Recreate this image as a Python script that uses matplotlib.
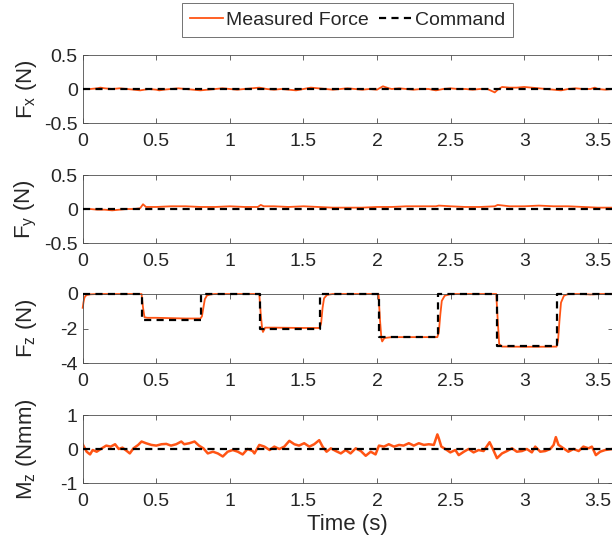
import matplotlib
matplotlib.use("Agg")
import matplotlib.pyplot as plt
from matplotlib.lines import Line2D

plt.rcParams['font.family'] = ['Liberation Sans', 'DejaVu Sans']
plt.rcParams['mathtext.fontset'] = 'custom'
plt.rcParams['mathtext.rm'] = 'Liberation Sans'
plt.rcParams['mathtext.it'] = 'Liberation Sans:italic'
plt.rcParams['mathtext.bf'] = 'Liberation Sans:bold'

# ---------------- data ----------------
fx_t = [0, 0.05, 0.1, 0.12, 0.15, 0.2, 0.25, 0.3, 0.35, 0.39, 0.45, 0.5, 0.52, 0.55, 0.6,
        0.65, 0.7, 0.75, 0.8, 0.85, 0.9, 0.95, 1.0, 1.05, 1.1, 1.15, 1.2, 1.25, 1.3, 1.35,
        1.4, 1.45, 1.5, 1.55, 1.6, 1.65, 1.7, 1.75, 1.8, 1.85, 1.9, 1.95, 2.0, 2.04, 2.08,
        2.1, 2.15, 2.2, 2.25, 2.3, 2.35, 2.4, 2.45, 2.5, 2.55, 2.6, 2.65, 2.7, 2.75, 2.8,
        2.82, 2.85, 2.9, 2.95, 3.0, 3.05, 3.1, 3.15, 3.2, 3.25, 3.3, 3.35, 3.4, 3.45, 3.48,
        3.5, 3.55, 3.6]
fx_v = [0.0, 0.0, 0.01, 0.02, 0.01, 0.0, 0.01, 0.0, -0.01, -0.02, 0.0, -0.01, -0.02, -0.01, 0.0,
        0.01, 0.0, -0.01, -0.02, -0.01, 0.0, 0.01, 0.0, -0.01, 0.0, 0.01, 0.02, 0.0, -0.01, 0.0,
        -0.01, -0.02, 0.0, 0.02, 0.01, 0.0, -0.01, 0.0, 0.01, 0.0, -0.01, 0.0, -0.01, 0.04, 0.01,
        0.0, 0.01, 0.0, -0.01, 0.0, 0.0, -0.02, 0.0, 0.01, 0.0, 0.0, -0.01, 0.0, 0.0, -0.05,
        -0.01, 0.03, 0.02, 0.02, 0.03, 0.02, 0.01, 0.0, -0.01, -0.02, 0.0, 0.01, 0.0, 0.0, 0.02,
        0.0, -0.01, 0.0]

fy_t = [0, 0.05, 0.1, 0.15, 0.2, 0.25, 0.3, 0.35, 0.39, 0.41, 0.43, 0.5, 0.6, 0.7, 0.8,
        0.9, 1.0, 1.1, 1.19, 1.21, 1.23, 1.3, 1.4, 1.5, 1.6, 1.7, 1.8, 1.9, 2.0, 2.1,
        2.2, 2.3, 2.4, 2.42, 2.5, 2.6, 2.7, 2.8, 2.82, 2.9, 3.0, 3.1, 3.2, 3.3, 3.4,
        3.5, 3.6]
fy_v = [0.0, 0.0, -0.01, -0.01, -0.02, -0.01, 0.0, 0.0, 0.01, 0.07, 0.03, 0.03, 0.04, 0.04, 0.03,
        0.03, 0.04, 0.03, 0.03, 0.06, 0.04, 0.04, 0.03, 0.04, 0.03, 0.02, 0.02, 0.02, 0.03, 0.03,
        0.04, 0.04, 0.04, 0.05, 0.04, 0.03, 0.03, 0.04, 0.06, 0.04, 0.04, 0.05, 0.04, 0.04, 0.03,
        0.02, 0.02]

fz_t = [0, 0.005, 0.012, 0.025, 0.05, 0.1, 0.2, 0.3, 0.4, 0.41, 0.42, 0.44, 0.5, 0.6, 0.7,
        0.8, 0.81, 0.82, 0.83, 0.845, 0.87, 0.9, 1.0, 1.1, 1.2, 1.21, 1.22, 1.225, 1.24, 1.3,
        1.4, 1.5, 1.61, 1.62, 1.63, 1.64, 1.66, 1.7, 1.8, 1.9, 2.01, 2.02, 2.03, 2.035, 2.05,
        2.1, 2.2, 2.3, 2.41, 2.42, 2.43, 2.44, 2.46, 2.5, 2.6, 2.7, 2.81, 2.82, 2.83, 2.85,
        2.9, 3.0, 3.1, 3.22, 3.23, 3.24, 3.25, 3.27, 3.3, 3.4, 3.45, 3.5, 3.6]
fz_v = [-0.8, -0.5, -0.2, -0.06, -0.02, 0.0, 0.0, 0.0, 0.0, -0.8, -1.35, -1.38, -1.38, -1.4, -1.42,
        -1.42, -1.3, -0.8, -0.3, -0.08, -0.02, 0.0, 0.0, 0.0, 0.0, -1.2, -2.05, -2.2, -1.95, -1.95,
        -1.96, -1.97, -1.97, -1.7, -0.8, -0.25, -0.05, 0.0, 0.0, 0.0, 0.0, -1.5, -2.6, -2.75, -2.55,
        -2.5, -2.5, -2.5, -2.5, -2.2, -1.2, -0.4, -0.1, 0.0, 0.0, 0.0, 0.0, -1.5, -2.9, -3.05,
        -3.05, -3.06, -3.06, -3.05, -2.7, -1.5, -0.5, -0.1, 0.0, 0.0, -0.03, 0.0, 0.0]

fz_cmd_t = [0, 0.40, 0.40, 0.805, 0.805, 1.205, 1.205, 1.61, 1.61, 2.015, 2.015, 2.415, 2.415,
            2.815, 2.815, 3.22, 3.22, 3.6]
fz_cmd_v = [0, 0, -1.5, -1.5, 0, 0, -2, -2, 0, 0, -2.5, -2.5, 0, 0, -3, -3, 0, 0]

mz_t = [0, 0.027, 0.05, 0.068, 0.095, 0.13, 0.16, 0.19, 0.22, 0.245, 0.27, 0.3, 0.32, 0.345,
        0.377, 0.4, 0.43, 0.467, 0.5, 0.535, 0.568, 0.6, 0.635, 0.67, 0.69, 0.725, 0.76, 0.79,
        0.82, 0.85, 0.885, 0.918, 0.952, 0.985, 1.02, 1.054, 1.087, 1.12, 1.155, 1.167, 1.2,
        1.235, 1.27, 1.302, 1.336, 1.37, 1.404, 1.438, 1.47, 1.505, 1.54, 1.573, 1.607, 1.63,
        1.657, 1.686, 1.72, 1.754, 1.787, 1.82, 1.855, 1.89, 1.923, 1.957, 1.99, 2.013, 2.047,
        2.08, 2.115, 2.15, 2.18, 2.216, 2.25, 2.284, 2.318, 2.352, 2.386, 2.41, 2.42, 2.437,
        2.464, 2.498, 2.532, 2.555, 2.59, 2.622, 2.656, 2.69, 2.724, 2.765, 2.785, 2.815, 2.849,
        2.883, 2.917, 2.95, 2.985, 3.018, 3.052, 3.075, 3.109, 3.143, 3.177, 3.2, 3.215, 3.233,
        3.267, 3.3, 3.335, 3.37, 3.402, 3.437, 3.46, 3.487, 3.516, 3.55, 3.6]
mz_v = [0.14, -0.08, -0.16, -0.03, -0.08, 0.02, 0.1, 0.07, 0.14, 0.0, 0.04, -0.06, -0.13, 0.02,
        0.12, 0.22, 0.17, 0.12, 0.1, 0.14, 0.15, 0.1, 0.14, 0.22, 0.14, 0.17, 0.22, 0.1,
        0.02, -0.13, -0.08, -0.13, -0.22, -0.08, -0.03, -0.08, -0.16, 0.0, -0.06, -0.13, 0.12,
        0.07, -0.03, 0.07, 0.0, 0.07, 0.24, 0.14, 0.1, 0.17, 0.07, 0.14, 0.26, 0.07,
        -0.08, 0.02, -0.06, -0.13, -0.03, -0.13, 0.02, -0.06, -0.2, -0.08, -0.16, 0.1, 0.07,
        0.14, 0.07, 0.12, 0.1, 0.17, 0.1, 0.17, 0.12, 0.14, 0.12, 0.43, 0.31, 0.07,
        0.0, -0.1, -0.03, -0.18, -0.08, 0.0, -0.1, -0.03, -0.06, 0.2, 0.02, -0.27, -0.13,
        -0.06, 0.02, -0.08, -0.06, 0.0, -0.1, 0.07, -0.08, -0.06, 0.0, 0.12, 0.35, 0.12,
        0.02, -0.08, 0.0, -0.06, 0.07, 0.02, 0.07, -0.18, -0.08, -0.03, 0.0]

zero_t = [0, 3.6]
zero_v = [0, 0]

ylabels = [r'F$_\mathrm{x}$ (N)', r'F$_\mathrm{y}$ (N)', r'F$_\mathrm{z}$ (N)', r'M$_\mathrm{z}$ (Nmm)']
ylims = [(-0.5, 0.5), (-0.5, 0.5), (-4, 0), (-1, 1)]
yticks = [[-0.5, 0, 0.5], [-0.5, 0, 0.5], [-4, -2, 0], [-1, 0, 1]]
yticklabels = [['-0.5', '0', '0.5'], ['-0.5', '0', '0.5'], ['-4', '-2', '0'], ['-1', '0', '1']]
xticks = [0, 0.5, 1, 1.5, 2, 2.5, 3, 3.5]
xticklabels = ['0', '0.5', '1', '1.5', '2', '2.5', '3', '3.5']

meas = [(fx_t, fx_v), (fy_t, fy_v), (fz_t, fz_v), (mz_t, mz_v)]
cmds = [(zero_t, zero_v), (zero_t, zero_v), (fz_cmd_t, fz_cmd_v), (zero_t, zero_v)]

# ---------------- figure ----------------
W, H = 612, 546
fig = plt.figure(figsize=(W / 100, H / 100), dpi=100)

orange = '#FF5414'
axcol = '#4d4d4d'
txtcol = '#262626'
fs = 14
lfs = 16

left_px = 82.7
right_px = 612.5
tops = [55, 175, 294, 415]
bots = [123, 243, 363, 483]
meas_lw = [1.3, 1.3, 1.3, 1.8]

axes = []
for i in range(4):
    ax = fig.add_axes([left_px / W, 1 - bots[i] / H, (right_px - left_px) / W, (bots[i] - tops[i]) / H])
    t, v = meas[i]
    ct, cv = cmds[i]
    ax.plot(t, v, color=orange, lw=meas_lw[i], clip_on=(i != 2), zorder=2)
    ax.plot(ct, cv, color='black', lw=1.6, dashes=(3.2, 2.4), clip_on=(i != 2), zorder=3)
    ax.set_xlim(0, 3.6)
    ax.set_ylim(*ylims[i])
    ax.set_xticks(xticks)
    ax.set_xticklabels(xticklabels)
    ax.set_yticks(yticks[i])
    ax.set_yticklabels(yticklabels[i])
    ax.tick_params(direction='in', length=3.8, width=0.6, colors=axcol, labelcolor=txtcol,
                   labelsize=fs, top=True, right=True)
    ax.tick_params(axis='x', pad=7)
    ax.tick_params(axis='y', pad=3.5)
    for s in ax.spines.values():
        s.set_color(axcol)
        s.set_linewidth(0.6)
    ax.set_ylabel(ylabels[i], fontsize=lfs, color=txtcol)
    ax.yaxis.set_label_coords(-0.083, 0.5)
    axes.append(ax)

axes[3].set_xlabel('Time (s)', fontsize=lfs, color=txtcol, labelpad=3)

handles = [Line2D([], [], color=orange, lw=1.3),
           Line2D([], [], color='black', lw=1.6, dashes=(3.2, 2.4))]
leg = fig.legend(handles, ['Measured Force', 'Command'], loc='center',
                 bbox_to_anchor=((left_px + right_px) / 2 / W, 1 - 20 / H), ncol=2,
                 fontsize=fs, frameon=True, fancybox=False, edgecolor='#333333',
                 handlelength=1.7, handletextpad=0.15, columnspacing=0.5, borderpad=0.4,
                 borderaxespad=0)
leg.get_frame().set_linewidth(0.6)
for txt in leg.get_texts():
    txt.set_color(txtcol)

fig.savefig('out.png', dpi=100)
